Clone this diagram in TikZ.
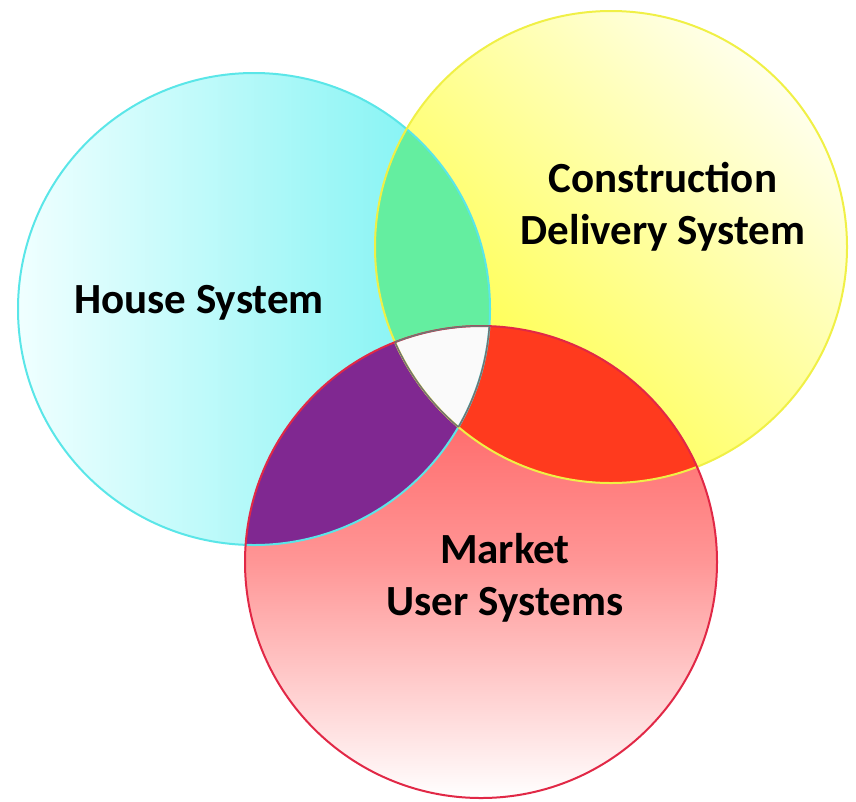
\documentclass[tikz,border=0pt]{standalone}
\usepackage{fontspec}
\setmainfont{Carlito}
\definecolor{cyanL}{RGB}{240,255,255}
\definecolor{cyanD}{RGB}{115,242,242}
\definecolor{cyanE}{RGB}{90,230,232}
\definecolor{yelL}{RGB}{255,255,235}
\definecolor{yelD}{RGB}{255,255,55}
\definecolor{yelE}{RGB}{240,240,70}
\definecolor{redT}{RGB}{255,80,80}
\definecolor{redM}{RGB}{255,150,150}
\definecolor{redE}{RGB}{225,40,70}
\definecolor{greenI}{RGB}{100,238,160}
\definecolor{purpI}{RGB}{128,40,145}
\definecolor{orangeI}{RGB}{255,58,30}
\definecolor{triI}{RGB}{250,250,250}
\tikzset{
  lbl/.style={font=\bfseries\fontsize{43}{52}\selectfont, align=center, text=black, inner sep=0pt},
  rim/.style={line width=2pt}
}
\begin{document}
\begin{tikzpicture}[x=1pt,y=-1pt]
\useasboundingbox (0,0) rectangle (856,801);
\coordinate (cc) at (254,309);
\coordinate (yc) at (611,247);
\coordinate (rc) at (481,562);
\def\rr{236pt}
% base circles
\shade[left color=cyanL, right color=cyanD] (cc) circle (\rr);
\shade[top color=yelL, bottom color=yelD, shading angle=-45] (yc) circle (\rr);
\shade[top color=redT, bottom color=white, middle color=redM] (rc) circle (\rr);
% intersections
\begin{scope}
  \clip (cc) circle (\rr);
  \fill[greenI] (yc) circle (\rr);
  \fill[purpI] (rc) circle (\rr);
\end{scope}
\begin{scope}
  \clip (yc) circle (\rr);
  \fill[orangeI] (rc) circle (\rr);
\end{scope}
\begin{scope}
  \clip (cc) circle (\rr);
  \clip (yc) circle (\rr);
  \fill[triI] (rc) circle (\rr);
\end{scope}
% rims
\draw[rim, cyanE] (cc) circle (\rr);
\draw[rim, yelE] (yc) circle (\rr);
\draw[rim, redE] (rc) circle (\rr);
\begin{scope}
  \clip (cc) circle (\rr);
  \clip (yc) circle (\rr);
  \draw[line width=1.5pt, black!55] (rc) circle (\rr);
\end{scope}
\begin{scope}
  \clip (rc) circle (\rr);
  \clip (yc) circle (\rr);
  \draw[line width=1.5pt, black!55] (cc) circle (\rr);
\end{scope}
\begin{scope}
  \clip (rc) circle (\rr);
  \clip (cc) circle (\rr);
  \draw[line width=1.5pt, black!55] (yc) circle (\rr);
\end{scope}
% labels
\node[lbl] (house) at (199,303) {House System};
\node[lbl] (constr) at (663,207) {Construction\\Delivery System};
\node[lbl] (market) at (505,578) {Market\\User Systems};
\end{tikzpicture}
\end{document}
